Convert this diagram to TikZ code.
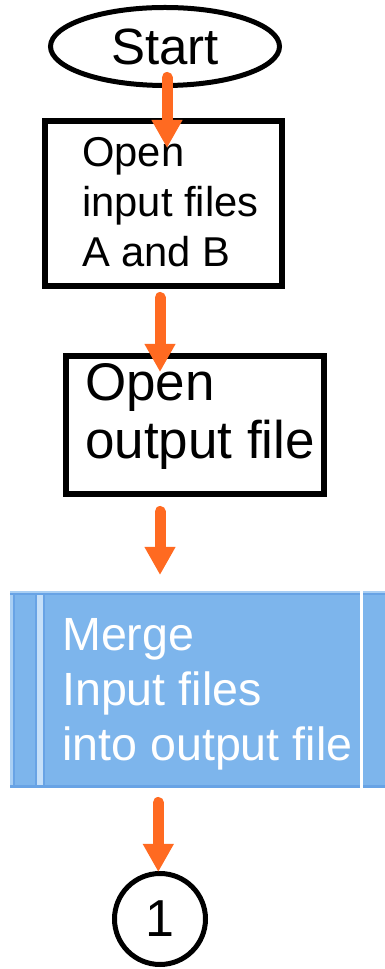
\documentclass[tikz,border=0pt]{standalone}
\usepackage{fontspec}
\setmainfont{Liberation Sans}
\usetikzlibrary{shapes.geometric,arrows.meta}
\definecolor{flowor}{RGB}{255,106,33}
\definecolor{mergebl}{RGB}{125,181,236}
\definecolor{mergedk}{RGB}{104,163,229}
\definecolor{mergelt}{RGB}{198,224,249}
\tikzset{
  flow/.style={draw=flowor, line width=11pt, line cap=round, -{Triangle[width=29pt,length=28pt]}},
  procbox/.style={draw, rectangle, line width=6pt, inner sep=0pt, outer sep=0pt},
  term/.style={draw, ellipse, line width=5pt, inner sep=0pt, outer sep=0pt},
  boxtext/.style={anchor=north west, inner sep=0pt, align=left},
}

\begin{document}
\begin{tikzpicture}[x=1pt,y=1pt]
	\useasboundingbox (0,0) rectangle (385,969);

	\node[term, minimum width=229pt, minimum height=78pt, font=\fontsize{51}{60}\selectfont] (start) at (165,922.5) {Start};

	\node[procbox, minimum width=237pt, minimum height=165pt] (inA) at (163.5,765.5) {};
	\node[boxtext, font=\fontsize{41.7}{50}\selectfont] (inAtext) at (82,832) {Open\\input files\\A and B};

	\node[procbox, minimum width=258pt, minimum height=138pt] (inB) at (195,544) {};
	\node[boxtext, font=\fontsize{53}{58}\selectfont] (inBtext) at (85,606) {Open\\output file};

	\node[fill=mergebl, minimum width=375pt, minimum height=197pt, inner sep=0pt, outer sep=0pt] (merge) at (197.5,279.5) {};
	\fill[mergelt!60!mergebl] (10,181) rectangle (13,378);
	\fill[mergedk] (13,181) rectangle (15,378);
	\fill[mergedk] (35,181) rectangle (37,378);
	\fill[mergelt] (37,181) rectangle (43,378);
	\fill[mergedk] (43,181) rectangle (45,378);
	\fill[mergelt!60!mergebl] (10,376) rectangle (385,378);
	\fill[mergedk] (10,373.5) rectangle (385,376);
	\fill[mergedk] (10,181) rectangle (385,184);
	\fill[white] (360,181) rectangle (362.5,378);
	\node[boxtext, text=white, font=\fontsize{46.6}{55}\selectfont] (mergetext) at (62,351) {Merge\\Input files\\into output file};

	\node[draw, circle, line width=5pt, minimum size=91pt, inner sep=0pt, outer sep=0pt, font=\fontsize{52}{60}\selectfont] (conn) at (160,50) {1};

	\draw[flow] ([xshift=2pt,yshift=8pt]start.south) -- ([xshift=3.5pt,yshift=-27pt]inA.north);
	\draw[flow] ([xshift=-3.5pt,yshift=-11.5pt]inA.south) -- ([xshift=-35pt,yshift=-16pt]inB.north);
	\draw[flow] ([xshift=-35pt,yshift=-17.5pt]inB.south) -- ([xshift=-37.5pt,yshift=16pt]merge.north);
	\draw[flow] ([xshift=-39.2pt,yshift=-14.5pt]merge.south) -- ([xshift=-1.7pt,yshift=1.5pt]conn.north);
\end{tikzpicture}
\end{document}
